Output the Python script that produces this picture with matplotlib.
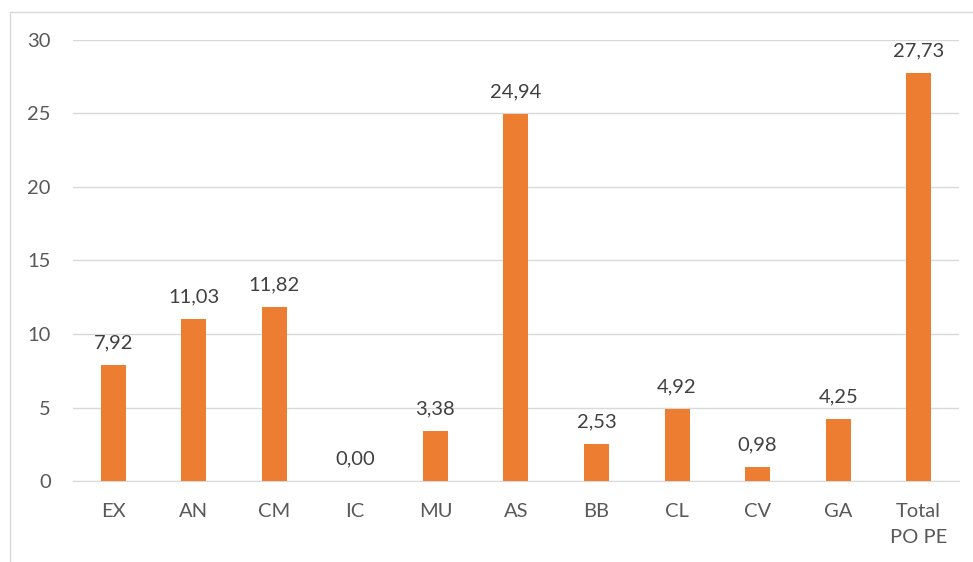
import matplotlib.pyplot as plt
from matplotlib.patches import Rectangle

# ===== data =====
categories = ["EX", "AN", "CM", "IC", "MU", "AS", "BB", "CL", "CV", "GA", "Total\nPO PE"]
values = [7.92, 11.03, 11.82, 0.00, 3.38, 24.94, 2.53, 4.92, 0.98, 4.25, 27.73]
yticks = [0, 5, 10, 15, 20, 25, 30]

plt.rcParams['font.family'] = ['Lato', 'DejaVu Sans']
txt = "#595959"
fs = 14.5

fig = plt.figure(figsize=(9.73, 5.62), dpi=100)
ax = fig.add_axes([0.075, 0.144, 0.9106, 0.785])

x = range(len(categories))
ax.bar(x, values, width=0.31, color="#ED7D31", zorder=3)

for xi, v in zip(x, values):
    ax.annotate("{:.2f}".format(v).replace(".", ","), (xi, v),
                xytext=(0, 12), textcoords="offset points",
                ha="center", va="baseline", fontsize=fs, color="#404040")

ax.set_xlim(-0.5, len(categories) - 0.5)
ax.set_ylim(0, 30)
ax.set_yticks(yticks)
ax.set_xticks(list(x))
ax.set_xticklabels(categories, fontsize=fs, color=txt, linespacing=1.6)
ax.tick_params(axis="y", labelsize=fs, labelcolor=txt, length=0, pad=16)
ax.tick_params(axis="x", length=0, pad=16)

ax.yaxis.grid(True, color="#d9d9d9", linewidth=1, zorder=0)
for s in ["top", "right", "left"]:
    ax.spines[s].set_visible(False)
ax.spines["bottom"].set_color("#d9d9d9")

# chart border
fig.patches.append(Rectangle((0.0105, -0.01), 1.0, 0.989, transform=fig.transFigure,
                             fill=False, edgecolor="#d9d9d9", linewidth=1))

plt.savefig("out.png", dpi=100)
